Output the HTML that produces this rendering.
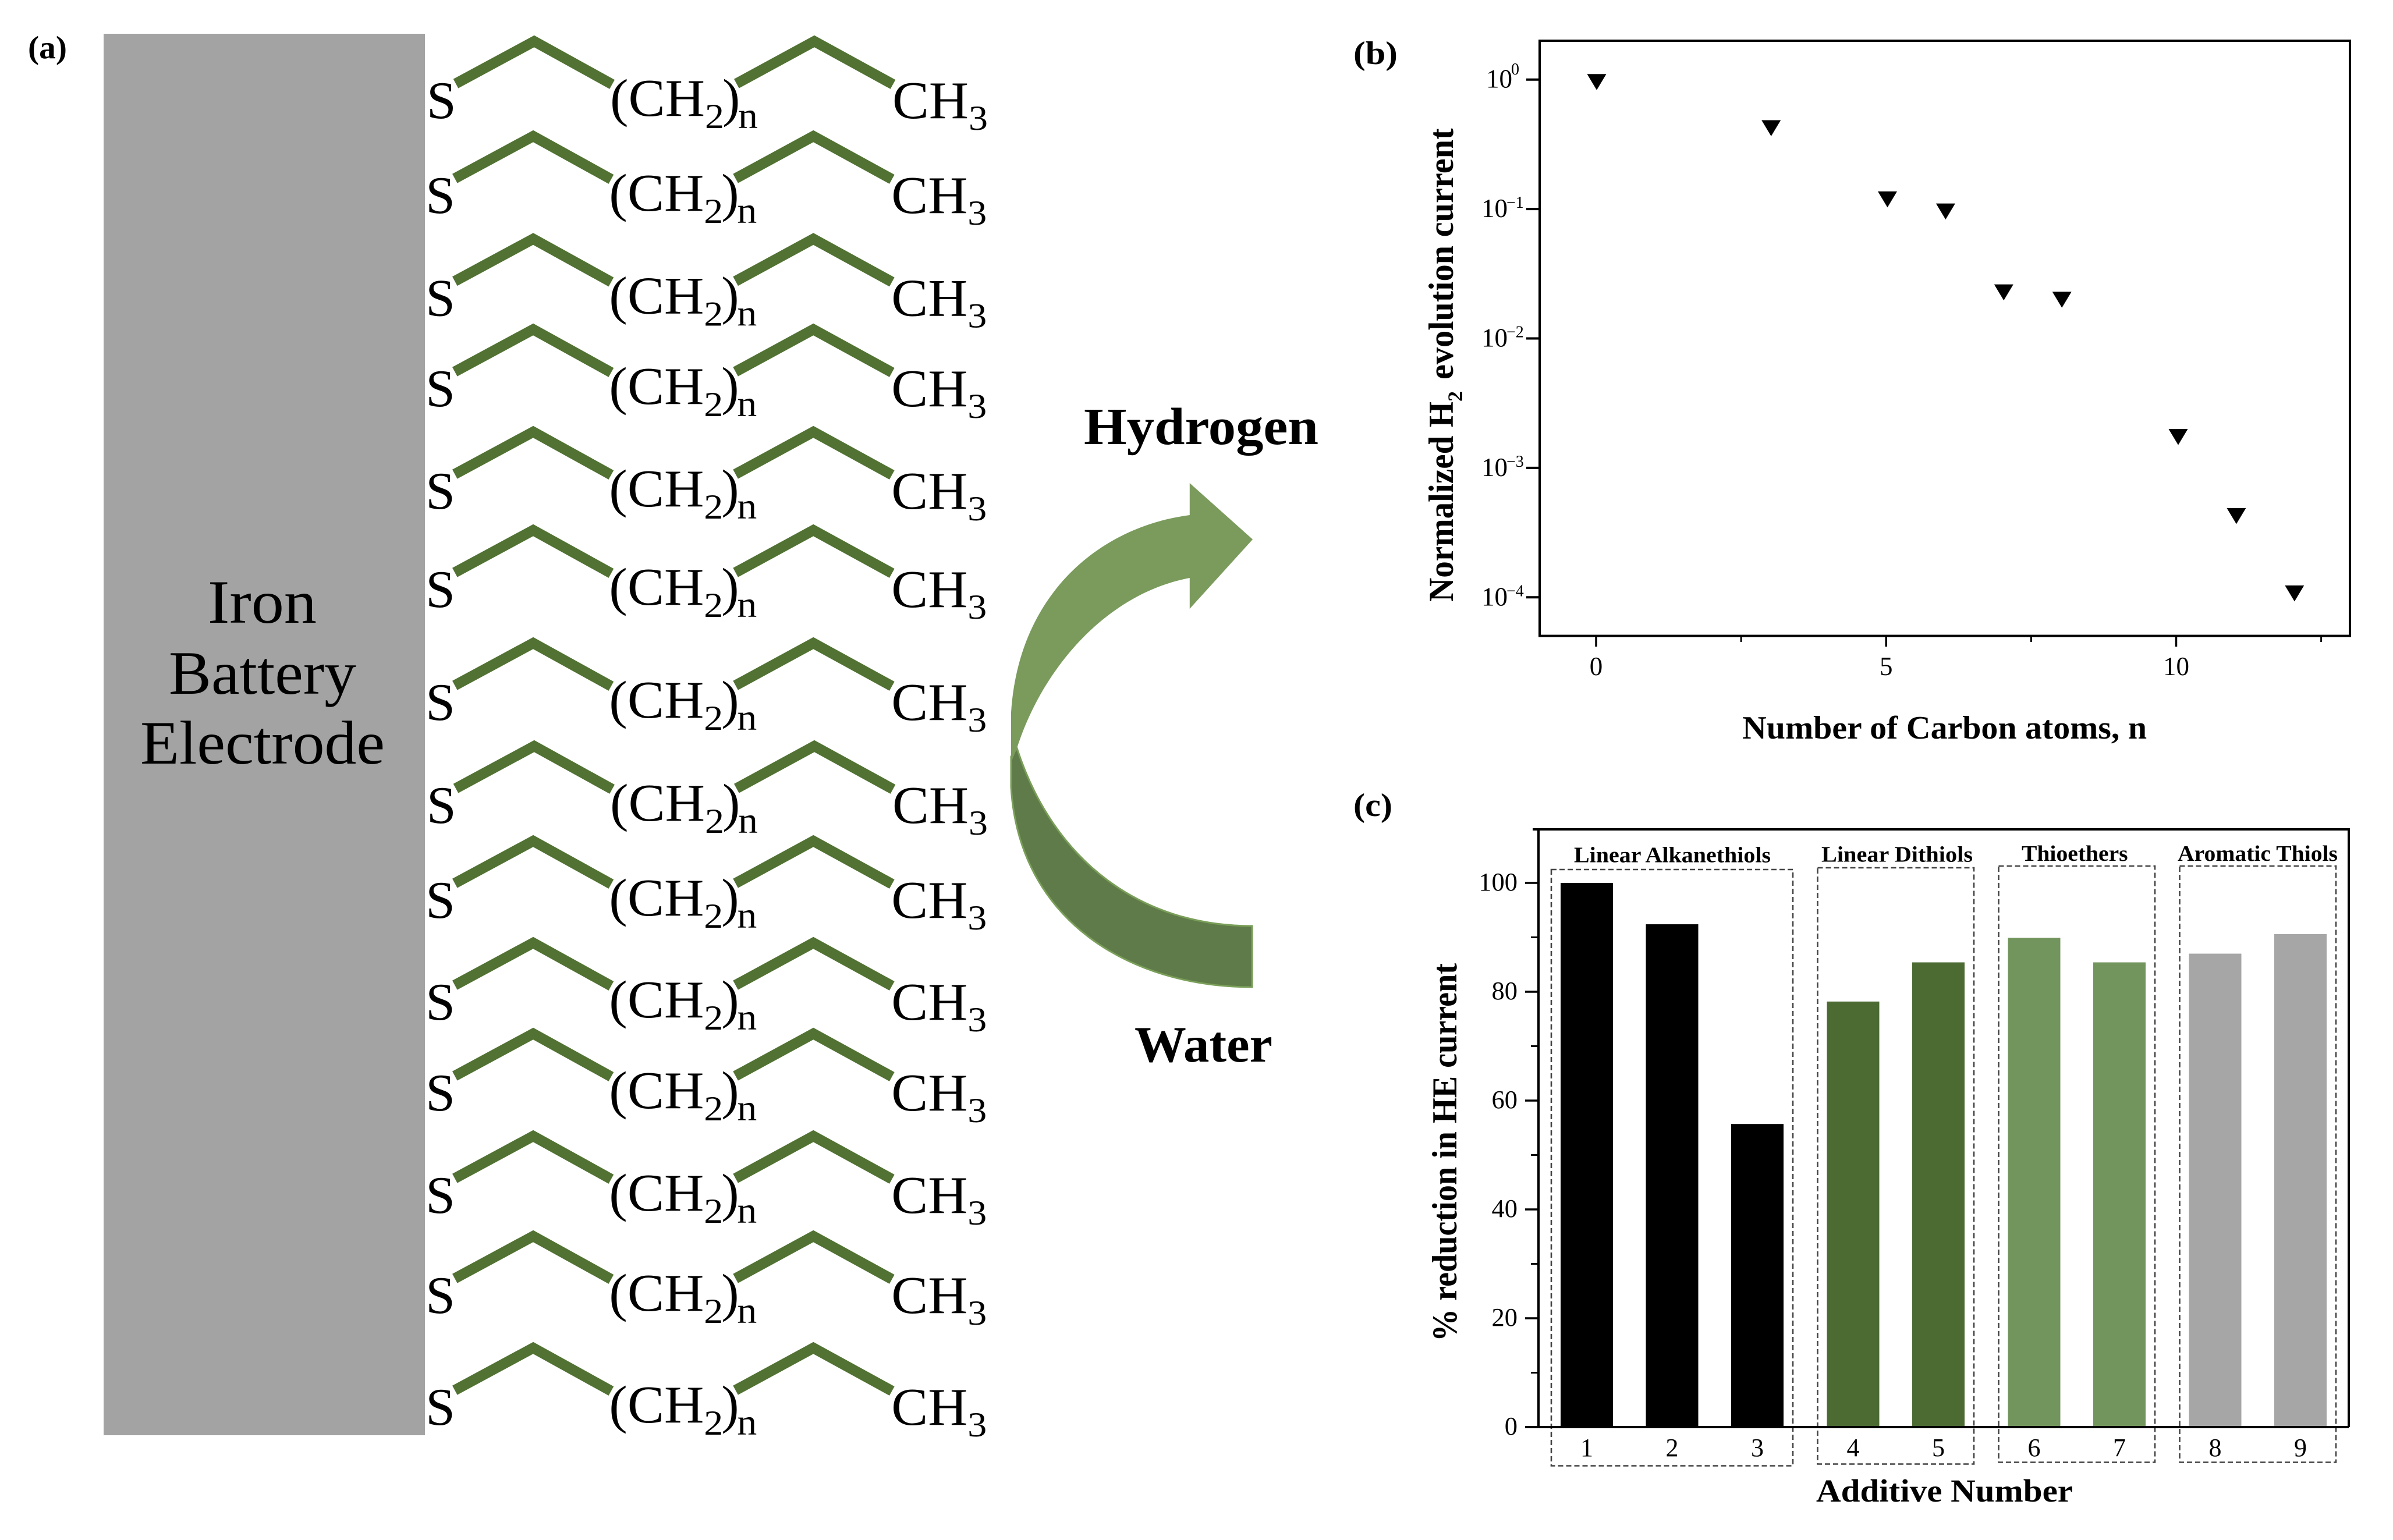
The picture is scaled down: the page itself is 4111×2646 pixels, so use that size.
<!DOCTYPE html>
<html lang="en">
<head>
<meta charset="utf-8">
<title>Iron battery electrode hydrogen evolution figure</title>
<style>
html,body{margin:0;padding:0;background:#fff;width:4111px;height:2646px;overflow:hidden}
svg{display:block;position:absolute;left:0;top:0}
text{font-family:"Liberation Serif","DejaVu Serif",serif;fill:#000}
.b{font-weight:bold}
</style>
</head>
<body>
<svg id="fig" xmlns="http://www.w3.org/2000/svg" width="4111" height="2646" viewBox="0 0 4111 2646">
<rect width="4111" height="2646" fill="#fff"/>

<g id="panel-a">
<text class="b" x="48" y="100" font-size="55" textLength="67" lengthAdjust="spacingAndGlyphs">(a)</text>
<rect x="178" y="58" width="552" height="2408" fill="#a3a3a3"/>
<text x="357" y="1070" font-size="106" textLength="187" lengthAdjust="spacingAndGlyphs">Iron</text>
<text x="290" y="1192" font-size="106" textLength="322" lengthAdjust="spacingAndGlyphs">Battery</text>
<text x="241" y="1312" font-size="106" textLength="420" lengthAdjust="spacingAndGlyphs">Electrode</text>
<g id="rows"></g>
</g>

<g id="reaction">
<text class="b" x="1862" y="763" font-size="90" textLength="403" lengthAdjust="spacingAndGlyphs">Hydrogen</text>
<text class="b" x="1949" y="1824" font-size="88" textLength="237" lengthAdjust="spacingAndGlyphs">Water</text>
<path d="M1737,1300 L1737,1352 C1750,1580 1940,1696 2151,1696 L2151,1591 C1960,1591 1810,1480 1747,1285.6 Z" fill="#5f7b49" stroke="#7a9f59" stroke-width="3"/>
<path d="M2043.8,830 L2152,926.7 L2043.8,1046 L2043.8,993 C1900,1020 1790,1150 1747,1285.6 L1737,1310 L1737,1224 C1750,1020 1890,905 2043.8,885 Z" fill="#7a9b5c"/>
</g>

<g id="panel-b">
<text class="b" x="2325" y="110" font-size="56" textLength="76" lengthAdjust="spacingAndGlyphs">(b)</text>
<rect x="2645" y="70" width="1392" height="1022.6" fill="none" stroke="#000" stroke-width="4"/>
<text class="b" transform="translate(2496,1034) rotate(-90)" font-size="60" textLength="344" lengthAdjust="spacingAndGlyphs">Normalized H</text>
<text class="b" transform="translate(2512,690) rotate(-90)" font-size="36">2</text>
<text class="b" transform="translate(2496,652) rotate(-90)" font-size="60" textLength="431.5" lengthAdjust="spacingAndGlyphs">evolution current</text>
<text class="b" x="2993" y="1269" font-size="56" textLength="695" lengthAdjust="spacingAndGlyphs">Number of Carbon atoms, n</text>
<g id="b-marks"></g>
</g>

<g id="panel-c">
<text class="b" x="2325" y="1402" font-size="56" textLength="67" lengthAdjust="spacingAndGlyphs">(c)</text>
<g id="c-marks"></g>
<path d="M2633,1425 L4035,1425 L4035,2452 M2643,1425 L2643,2452 M2620,2452 L4035,2452" fill="none" stroke="#000" stroke-width="4"/>
<text class="b" x="2704" y="1481.7" font-size="38" textLength="338" lengthAdjust="spacingAndGlyphs">Linear Alkanethiols</text>
<text class="b" x="3129" y="1480.7" font-size="38" textLength="260" lengthAdjust="spacingAndGlyphs">Linear Dithiols</text>
<text class="b" x="3473" y="1479" font-size="38" textLength="182.6" lengthAdjust="spacingAndGlyphs">Thioethers</text>
<text class="b" x="3741" y="1479" font-size="38" textLength="275" lengthAdjust="spacingAndGlyphs">Aromatic Thiols</text>
<text class="b" transform="translate(2502,2305) rotate(-90)" font-size="60" textLength="650" lengthAdjust="spacingAndGlyphs">% reduction in HE current</text>
<text class="b" x="3120" y="2580" font-size="55" textLength="441" lengthAdjust="spacingAndGlyphs">Additive Number</text>
</g>
</svg>

<script>
/* Panel (a): molecule rows */
const SVGNS = 'http://www.w3.org/2000/svg';
const rowsHost = document.getElementById('rows');
function rowText(parent, content, x, y, size, width, name) {
  const t = document.createElementNS(SVGNS, 'text');
  t.textContent = content;
  t.setAttribute('x', x);
  t.setAttribute('y', y);
  t.setAttribute('font-size', size);
  if (width) {
    t.setAttribute('textLength', width);
    t.setAttribute('lengthAdjust', 'spacingAndGlyphs');
  }
  
  
  parent.appendChild(t);
}
function rowChain(parent, d, name) {
  const p = document.createElementNS(SVGNS, 'path');
  p.setAttribute('d', d);
  p.setAttribute('fill', 'none');
  p.setAttribute('stroke', '#517232');
  p.setAttribute('stroke-width', '18');
  p.setAttribute('stroke-linejoin', 'miter');
  
  
  parent.appendChild(p);
}
function drawRow(dy, dx) {
  const g = document.createElementNS(SVGNS, 'g');
  g.setAttribute('transform', 'translate(' + dx + ',' + dy + ')');
  
  
  rowChain(g, 'M783,143.7 L917.7,71 L1051.6,145', 'carbon-chain-left');
  rowChain(g, 'M1265.3,143.7 L1399,71 L1534,145', 'carbon-chain-right');
  rowText(g, 'S', 733, 203, 91, 0, 'sulfur-atom');
  rowText(g, '(CH', 1048, 199, 91, 163, 'methylene-group');
  rowText(g, '2', 1211, 220, 60, 33, 'methylene-subscript');
  rowText(g, ')', 1241, 199, 91, 0, 'methylene-close-paren');
  rowText(g, 'n', 1268, 220, 64, 34, 'repeat-subscript');
  rowText(g, 'CH', 1533, 203, 91, 131, 'methyl-group');
  rowText(g, '3', 1664, 223, 60, 33, 'methyl-subscript');
  rowsHost.appendChild(g);
}
drawRow(0, 0);
drawRow(163, -1.7);
drawRow(339.5, -1.7);
drawRow(495, -1.7);
drawRow(671, -1.7);
drawRow(840, -1.7);
drawRow(1034, -1.7);
drawRow(1211, 0);
drawRow(1374, -1.7);
drawRow(1549, -1.7);
drawRow(1705, -1.7);
drawRow(1881, -1.7);
drawRow(2053, -1.7);
drawRow(2245, -1.7);
</script>

<script>
/* Panel (b) data */
const carbonAtoms = [0, 3, 5, 6, 7, 8, 10, 11, 12];
const normalizedCurrent = [1.0, 0.44, 0.124, 0.1, 0.0237, 0.0208, 0.00181, 0.000444, 0.000112];
const bYExponents = [0, -1, -2, -3, -4];
const bXMajorTicks = [0, 5, 10];
const bXMinorTicks = [2.5, 7.5, 12.5];

const bHost = document.getElementById('b-marks');
function bX(n) { return 2743 + n * 99.9; }
function bY(v) { return 136.7 - Math.log10(v) * 222.4; }
function svgLine(parent, x1, y1, x2, y2, width, name) {
  const l = document.createElementNS(SVGNS, 'line');
  l.setAttribute('x1', x1);
  l.setAttribute('y1', y1);
  l.setAttribute('x2', x2);
  l.setAttribute('y2', y2);
  l.setAttribute('stroke', '#000');
  l.setAttribute('stroke-width', width);
  
  
  parent.appendChild(l);
}
function svgLabel(parent, content, x, y, size, anchor, name) {
  const t = document.createElementNS(SVGNS, 'text');
  t.textContent = content;
  t.setAttribute('x', x);
  t.setAttribute('y', y);
  t.setAttribute('font-size', size);
  t.setAttribute('text-anchor', anchor);
  t.setAttribute('fill', '#111');
  
  
  parent.appendChild(t);
}
bYExponents.forEach(function (e) {
  const y = bY(Math.pow(10, e));
  svgLine(bHost, 2622, y, 2645, y, 4, 'y-tick-b');
  const left = e === 0 ? 2553 : 2545;
  svgLabel(bHost, '10', left, y + 14, 45, 'start', 'y-tick-label-b');
  const expText = e === 0 ? '0' : '\u2212' + Math.abs(e);
  svgLabel(bHost, expText, left + 43, e === 0 ? y - 8.7 : y - 2, 28, 'start', 'y-tick-exponent-b');
});
bXMajorTicks.forEach(function (v) {
  const x = bX(v) - 1 - v * 0.25;
  svgLine(bHost, x, 1092, x, 1111, 3.5, 'x-tick-b');
  svgLabel(bHost, String(v), x, 1160, 45, 'middle', 'x-tick-label-b');
});
bXMinorTicks.forEach(function (v) {
  const x = bX(v) - 1 - v * 0.25;
  svgLine(bHost, x, 1092, x, 1103, 3, 'x-minor-tick-b');
});
carbonAtoms.forEach(function (n, i) {
  const x = bX(n);
  const y = bY(normalizedCurrent[i]);
  const m = document.createElementNS(SVGNS, 'path');
  m.setAttribute('d', 'M' + (x - 16.5) + ',' + (y - 9.5) + 'L' + (x + 16.5) + ',' + (y - 9.5) + 'L' + x + ',' + (y + 18) + 'Z');
  m.setAttribute('fill', '#000');
  
  
  bHost.appendChild(m);
});
</script>

<script>
/* Panel (c) data */
const additiveLabels = ['1', '2', '3', '4', '5', '6', '7', '8', '9'];
const reductionValues = [100, 92.4, 55.7, 78.2, 85.4, 89.9, 85.4, 87, 90.6];
const additiveGroups = [0, 0, 0, 1, 1, 2, 2, 3, 3];
const groupColors = ['#000000', '#4b6b33', '#72955d', '#a6a6a6'];
const cMajorTicks = [0, 20, 40, 60, 80, 100];
const cMinorTicks = [10, 30, 50, 70, 90];

const cHost = document.getElementById('c-marks');
function cX(i) { return 2726 + 146.5 * i + 18 * additiveGroups[i]; }
function cY(v) { return 2452 - v * 9.35; }
[0, 1, 2, 3].forEach(function (g) {
  const idx = additiveGroups.map(function (a, i) { return a === g ? i : -1; }).filter(function (i) { return i >= 0; });
  const x0 = cX(idx[0]) - 61;
  const x1 = cX(idx[idx.length - 1]) + 61;
  const top = 1494 - 3 * Math.min(g, 2);
  const r = document.createElementNS(SVGNS, 'rect');
  r.setAttribute('x', x0);
  r.setAttribute('y', top);
  r.setAttribute('width', x1 - x0);
  r.setAttribute('height', 1024.5);
  r.setAttribute('fill', 'none');
  r.setAttribute('stroke', '#444');
  r.setAttribute('stroke-width', '2.6');
  r.setAttribute('stroke-dasharray', '9 5');
  
  
  cHost.appendChild(r);
});
reductionValues.forEach(function (v, i) {
  const r = document.createElementNS(SVGNS, 'rect');
  r.setAttribute('x', cX(i) - 45);
  r.setAttribute('y', cY(v));
  r.setAttribute('width', 90);
  r.setAttribute('height', cY(0) - cY(v));
  r.setAttribute('fill', groupColors[additiveGroups[i]]);
  
  
  cHost.appendChild(r);
  svgLabel(cHost, additiveLabels[i], cX(i), 2502, 44, 'middle', 'x-tick-label-c');
});
cMajorTicks.forEach(function (v) {
  svgLine(cHost, 2620, cY(v), 2643, cY(v), 3.5, 'y-tick-c');
  svgLabel(cHost, String(v), 2607, cY(v) + 13, 44.5, 'end', 'y-tick-label-c');
});
cMinorTicks.forEach(function (v) {
  svgLine(cHost, 2630, cY(v), 2643, cY(v), 3, 'y-minor-tick-c');
});
</script>
</body>
</html>
